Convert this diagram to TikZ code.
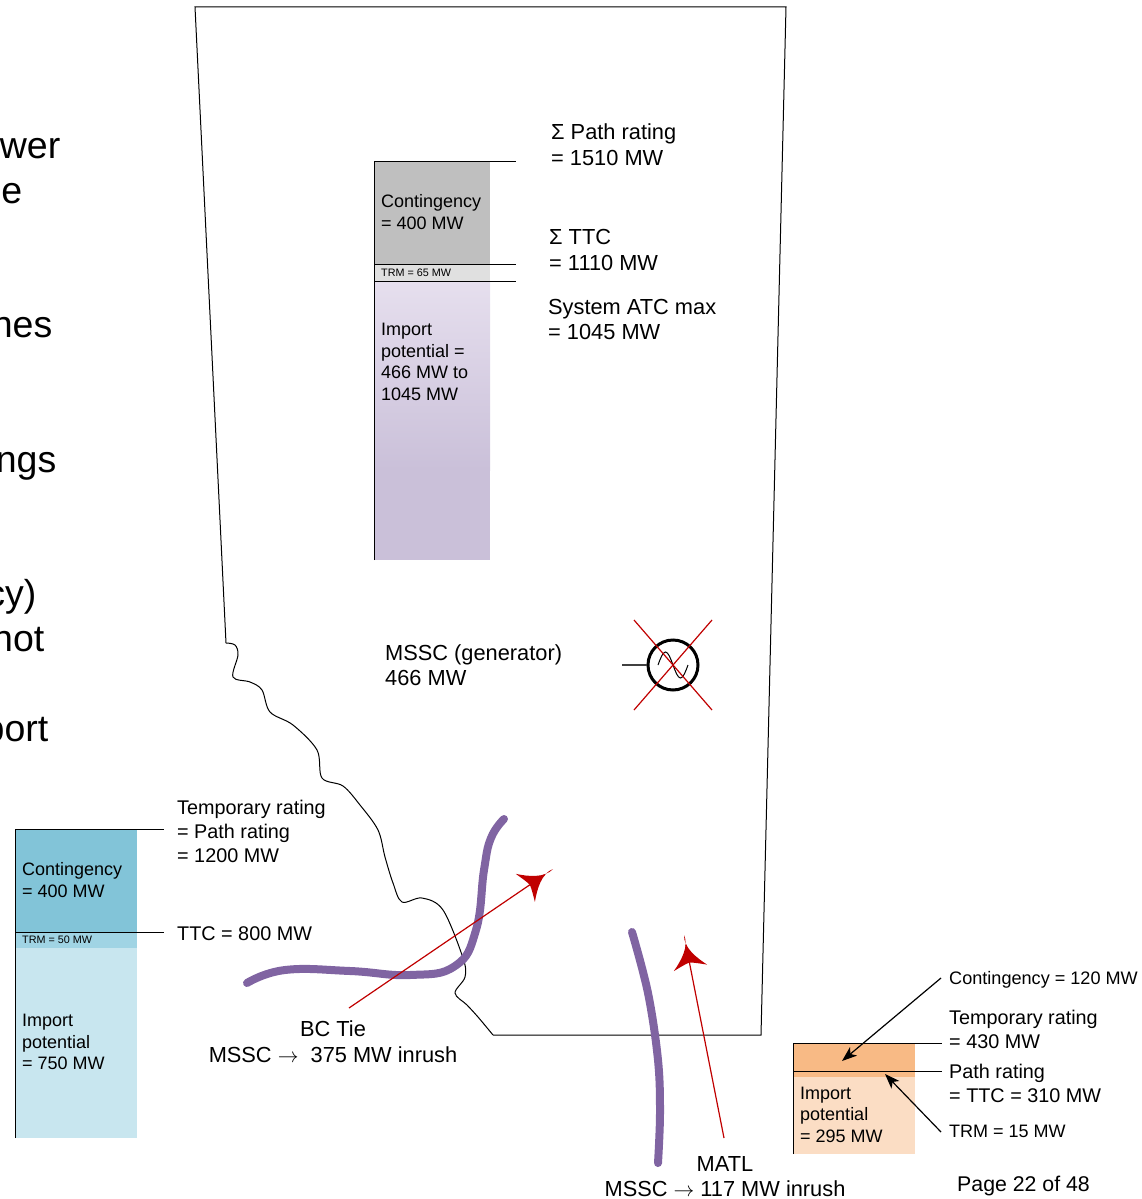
\documentclass[tikz,border=0pt]{standalone}
\usepackage{fontspec}
\setmainfont{Liberation Sans}
\usetikzlibrary{arrows.meta}

\tikzset{
    lbl/.style={inner sep=0pt,anchor=west,align=left,font=\fontsize{21.8}{25.5}\selectfont},
    lblm/.style={lbl,font=\fontsize{19.8}{24}\selectfont},
    lbls/.style={lbl,font=\fontsize{18}{21.5}\selectfont},
    lbltiny/.style={lbl,font=\fontsize{10.8}{12}\selectfont},
    cutoff/.style={inner sep=0pt,anchor=base east,font=\fontsize{37.5}{40}\selectfont},
    leader/.style={line width=0.9pt},
    tie/.style={line width=8pt,line cap=round,tieviolet},
    redline/.style={line width=1.2pt,arrowred},
    blackarrow/.style={line width=1.2pt,-{Stealth[length=15pt,width=11pt,inset=4pt]}},
    redtip/.pic={
        \fill[arrowred] (0,0) .. controls (-12,-3) and (-25,8) .. (-33.5,17)
            .. controls (-31,10) and (-29,5) .. (-28,0)
            .. controls (-29,-5) and (-31,-10) .. (-33.5,-17)
            .. controls (-25,-8) and (-12,3) .. cycle;
    }
}
\definecolor{tieviolet}{HTML}{8064A2}
\definecolor{arrowred}{HTML}{C00000}
\definecolor{contgrey}{HTML}{BFBFBF}
\definecolor{trmgrey}{HTML}{E0E0E0}
\definecolor{importtop}{HTML}{E6DFEE}
\definecolor{importbot}{HTML}{CAC0D9}
\definecolor{contblue}{HTML}{82C4D8}
\definecolor{trmblue}{HTML}{A0D4E4}
\definecolor{importblue}{HTML}{C8E6EF}
\definecolor{contorange}{HTML}{F8BA85}
\definecolor{importorange}{HTML}{FBDDC4}

\begin{document}
\begin{tikzpicture}[x=1pt,y=-1pt]
    \useasboundingbox (0,0) rectangle (1142,1199);

    % text running off the page
    \node[cutoff] at (60.5,158) {wer};
    \node[cutoff] at (22.5,203) {e};
    \node[cutoff] at (52.5,337) {nes};
    \node[cutoff] at (56.5,472) {ngs};
    \node[cutoff] at (36.5,606) {cy)};
    \node[cutoff] at (44.5,651) {not};
    \node[cutoff] at (48.5,741) {port};

    % region outline
    \draw[line width=1pt] (226,643) -- (195,7) -- (786,7) -- (761,1035) -- (493,1035);
    \draw[line width=1pt] plot[smooth,tension=0.55] coordinates {
        (226,643) (235,645) (238,655) (233,677) (250,682) (262,690) (270,712)
        (293,725) (317,750) (322,778) (343,786) (360,805) (378,830) (385,857)
        (393,883) (402,902) (422,898) (443,910) (463,958) (465,977) (455,993)
        (467,1005) (478,1017) (493,1035)};

    % grey and violet bar
    \fill[contgrey] (374,161) rectangle (490,264);
    \fill[trmgrey] (374,264) rectangle (490,281);
    \shade[top color=importtop,bottom color=importbot] (374,281) rectangle (490,470);
    \fill[importbot] (374,469.5) rectangle (490,560);
    \draw[leader] (374,560) -- (374,161) -- (516,161);
    \draw[leader] (374,264) -- (516,264);
    \draw[leader] (374,281) -- (516,281);
    \node[lbls] (contA) at (381,212) {Contingency\\= 400 MW};
    \node[lbltiny] (trmA) at (381,272.5) {TRM = 65 MW};
    \node[lbls] (importA) at (381,362) {Import\\potential =\\466 MW to\\1045 MW};
    \node[lbl] (pathA) at (551,144.5) {Σ Path rating\\= 1510 MW};
    \node[lbl] (ttcA) at (549,250) {Σ TTC\\= 1110 MW};
    \node[lbl] (atcA) at (548,319.3) {System ATC max\\= 1045 MW};

    % generator
    \node[lbl] (mssc) at (385,665) {MSSC (generator)\\466 MW};
    \node[circle,draw,line width=3pt,minimum size=50pt,inner sep=0pt] (gen) at (673,665) {};
    \coordinate (genfeed) at (622,665);
    \draw[line width=1.2pt,black!75] (genfeed) -- (gen.west);
    \draw[line width=1pt] (658,665) sin (665.5,652) cos (673,665) sin (680.5,678) cos (688,665);
    \coordinate (xa) at (634,620);
    \coordinate (xb) at (712,710);
    \coordinate (xc) at (712,620);
    \coordinate (xd) at (634,710);
    \draw[redline] (xa) -- (xb);
    \draw[redline] (xc) -- (xd);

    % blue bar
    \fill[contblue] (15,829) rectangle (137,932);
    \fill[trmblue] (15,932) rectangle (137,948);
    \fill[importblue] (15,948) rectangle (137,1138);
    \draw[leader] (15,1138) -- (15,829) -- (164,829);
    \draw[leader] (15,932) -- (164,932);
    \node[lbls] (contB) at (22,880) {Contingency\\= 400 MW};
    \node[lbltiny] (trmB) at (22,939.5) {TRM = 50 MW};
    \node[lbls] (importB) at (22,1042) {Import\\potential\\= 750 MW};
    \node[lblm] (tempB) at (177,831) {Temporary rating\\= Path rating\\= 1200 MW};
    \node[lblm] (ttcB) at (177,934) {TTC = 800 MW};

    % orange bar
    \fill[contorange] (793,1043) rectangle (915,1077);
    \fill[importorange] (793,1077) rectangle (915,1154);
    \draw[leader] (793,1154) -- (793,1043) -- (942,1043);
    \draw[leader] (793,1071) -- (942,1071);
    \node[lbls] (importC) at (800,1114.5) {Import\\potential\\= 295 MW};
    \node[lbls,font=\fontsize{18.1}{21.5}\selectfont] (contC) at (949,980) {Contingency = 120 MW};
    \node[lblm] (tempC) at (949,1029) {Temporary rating\\= 430 MW};
    \node[lblm] (pathC) at (949,1083) {Path rating\\= TTC = 310 MW};
    \node[lbls] (trmC) at (949,1131) {TRM = 15 MW};
    \coordinate (contCtip) at (842,1061);
    \coordinate (trmCtip) at (885,1074);
    \draw[blackarrow] (941,978) -- (contCtip);
    \draw[blackarrow] (941,1132) -- (trmCtip);

    % tie lines
    \draw[tie] plot[smooth,tension=0.75] coordinates {
        (247,983) (285,970) (350,971) (410,975) (455,966) (476,930)
        (484,870) (491,838) (504,819)};
    \draw[tie] plot[smooth,tension=0.6] coordinates {
        (632,932) (648,993) (658,1060) (660,1113) (658,1163)};

    % flows
    \node[lbl,anchor=center,align=center] (bctie) at (333,1041.5) {BC Tie\\MSSC $\rightarrow$~ 375 MW inrush};
    \node[lbl,anchor=center,align=center] (matl) at (725,1176.5) {MATL\\MSSC $\rightarrow$ 117 MW inrush};
    \coordinate (bcstart) at (349,1008);
    \coordinate (bctip) at (553,869);
    \coordinate (matlstart) at (724,1138);
    \coordinate (matltip) at (684,935);
    \draw[redline,shorten >=10pt] (bcstart) -- (bctip);
    \draw[redline,shorten >=10pt] (matlstart) -- (matltip);
    \pic[rotate=34.3] at (bctip) {redtip};
    \pic[rotate=101.1] at (matltip) {redtip};

    \node[lbl,font=\fontsize{21.3}{25}\selectfont] (page) at (957,1186) {Page 22 of 48};
\end{tikzpicture}
\end{document}
